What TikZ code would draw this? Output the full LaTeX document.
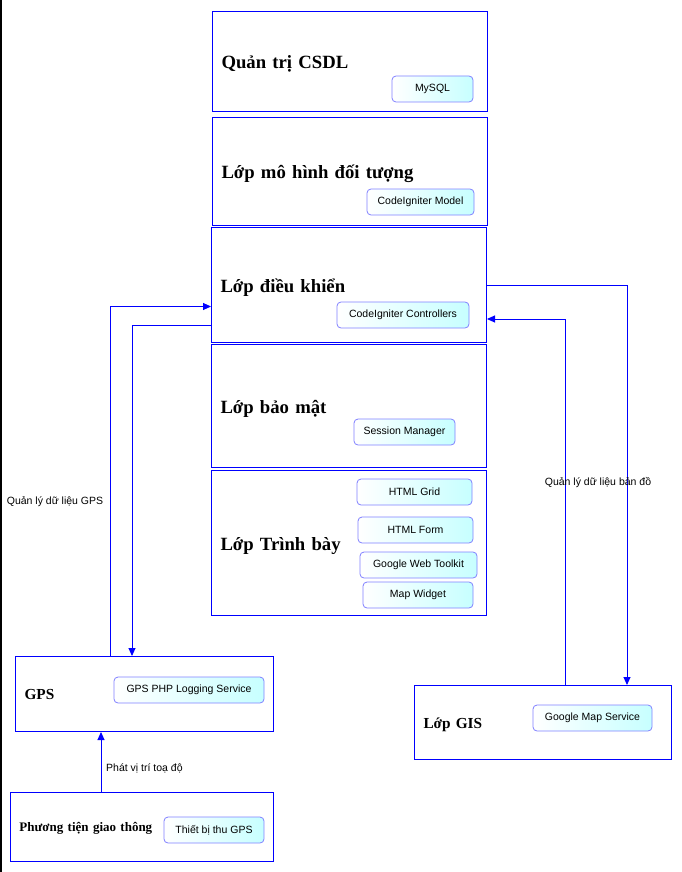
\documentclass[tikz,border=0pt]{standalone}
\usepackage{fontspec}
\setmainfont{Liberation Serif}
\setsansfont{Liberation Sans}
\usetikzlibrary{arrows.meta}

\begin{document}
\begin{tikzpicture}[x=1pt, y=-1pt,
  layer/.style={draw=blue, line width=1pt, anchor=north west, inner xsep=9pt,
    text width=257pt, align=left, font=\bfseries\fontsize{18.7}{22}\selectfont,
    execute at begin node={\rule[-0.35em]{0pt}{1.45em}}},
  part/.style={draw={rgb,255:red,128;green,128;blue,255}, line width=0.8pt,
    rounded corners=4pt, left color=white, right color=cyan!22,
    minimum height=26pt, inner sep=0pt, font=\sffamily\fontsize{10.5}{12}\selectfont},
  flow/.style={draw=blue, line width=0.9pt, -{Triangle[length=8pt,width=7pt]}},
  lbl/.style={font=\sffamily\fontsize{10.5}{12}\selectfont, inner sep=0pt}]
  \useasboundingbox (0,0) rectangle (681,872);

  % Left edge of the page
  \draw[black, line width=1.5pt] (0.75,0) -- (0.75,872);

  % Stack of layers
  \node[layer, minimum height=100pt] (csdl) at (212,11) {Quản trị CSDL};
  \node[layer, minimum height=108pt] (model) at (212,117) {Lớp mô hình đối tượng};
  \node[layer, minimum height=115pt] (ctrl) at (211,227) {Lớp điều khiển};
  \node[layer, minimum height=123pt] (secu) at (211,344) {Lớp bảo mật};
  \node[layer, minimum height=145pt] (view) at (211,470) {Lớp Trình bày};

  % Outside blocks
  \node[layer, text width=240pt, minimum height=75pt,
    font=\bfseries\fontsize{15.3}{18}\selectfont] (gps) at (15,656) {GPS};
  \node[layer, text width=239pt, minimum height=74pt,
    font=\bfseries\fontsize{15.3}{18}\selectfont] (gis) at (414,685) {Lớp GIS};
  \node[layer, text width=245pt, minimum height=69pt,
    font=\bfseries\fontsize{13}{15}\selectfont] (veh) at (10,792) {Phương tiện giao thông};

  % Components inside the blocks
  \node[part, minimum width=81pt] (mysql) at (432.5,89) {MySQL};
  \node[part, minimum width=107pt] (cimodel) at (420.5,202) {CodeIgniter Model};
  \node[part, minimum width=132pt] (cictrl) at (403,315) {CodeIgniter Controllers};
  \node[part, minimum width=101pt] (session) at (404.5,432) {Session Manager};
  \node[part, minimum width=115pt] (grid) at (414.5,492) {HTML Grid};
  \node[part, minimum width=115pt] (form) at (415.5,530) {HTML Form};
  \node[part, minimum width=117pt] (gwt) at (418.5,565) {Google Web Toolkit};
  \node[part, minimum width=110pt] (widget) at (418,595) {Map Widget};
  \node[part, minimum width=150pt] (gpslog) at (189,690) {GPS PHP Logging Service};
  \node[part, minimum width=100pt] (gpsdev) at (214,830) {Thiết bị thu GPS};
  \node[part, minimum width=119pt] (gmap) at (592.5,718) {Google Map Service};

  % GPS <-> controllers
  \draw[flow] ([xshift=95pt]gps.north west) |- ([yshift=-21.5pt]ctrl.west);
  \draw[flow] ([yshift=-40.5pt]ctrl.west) -| ([xshift=117pt]gps.north west);
  \node[lbl] (lblgps) at (55,502) {Quản lý dữ liệu GPS};

  % GIS <-> controllers
  \draw[flow] (ctrl.east) -| ([xshift=213pt]gis.north west);
  \draw[flow] ([xshift=151pt]gis.north west) |- ([yshift=-34pt]ctrl.east);
  \node[lbl] (lblgis) at (598,483) {Quản lý dữ liệu bản đồ};

  % Vehicle -> GPS
  \draw[flow] ([xshift=91pt]veh.north west) -- ([xshift=86pt]gps.south west);
  \node[lbl, anchor=west] (lblveh) at (106,768) {Phát vị trí toạ độ};
\end{tikzpicture}
\end{document}
